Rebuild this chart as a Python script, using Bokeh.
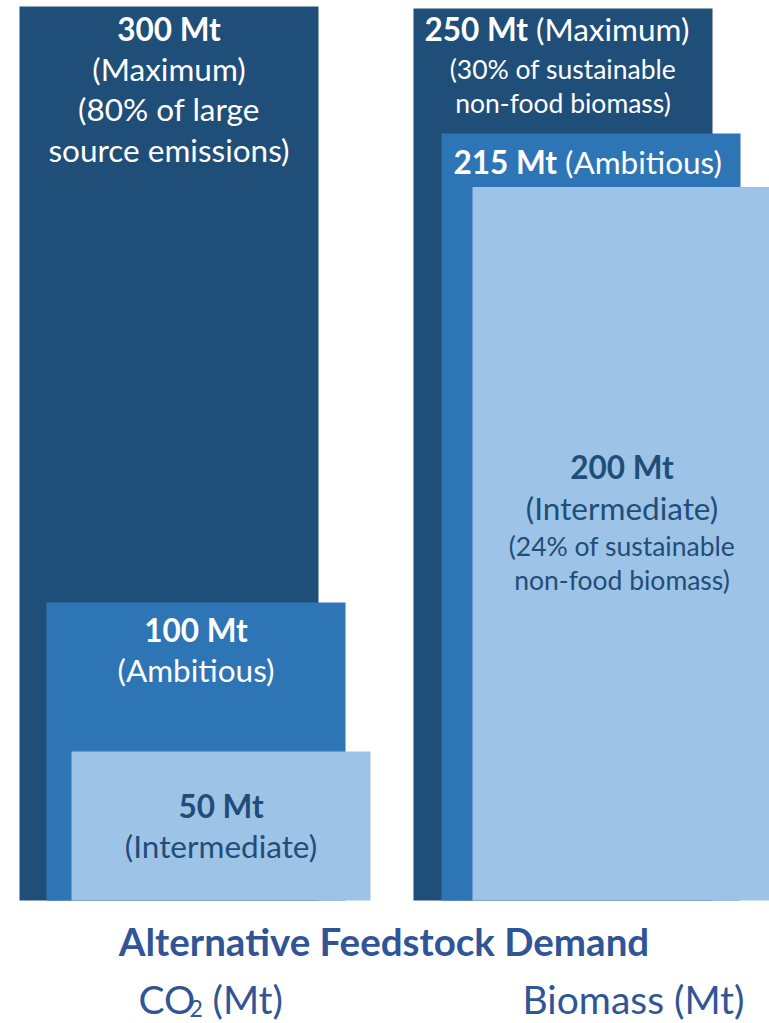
from bokeh.plotting import figure
from bokeh.models import Range1d
from bokeh.core.properties import value
from bokeh.embed import file_html
from bokeh.resources import INLINE

# ---- data -------------------------------------------------------------
scenarios = ["Maximum", "Ambitious", "Intermediate"]
co2_mt = [300, 100, 50]
biomass_mt = [250, 215, 200]
co2_notes = [["(80% of large", "source emissions)"], [], []]
biomass_notes = [["(30% of sustainable", "non-food biomass)"], [],
                 ["(24% of sustainable", "non-food biomass)"]]
title_text = "Alternative Feedstock Demand"
co2_label = ("CO", "2", "(Mt)")
biomass_label = "Biomass (Mt)"

# ---- layout / style ---------------------------------------------------
W, H = 769, 1023
BASE_PX = 900          # pixel row of the zero line
CO2_TOP_PX = 6         # pixel row reached by the largest CO2 bar
BIO_TOP_PX = 8         # pixel row reached by the largest biomass bar
BAR_W = 299
co2_lefts = [19, 46, 71]
bio_lefts = [413, 441, 472]
fills = ["#1F4E79", "#2E75B6", "#9DC3E6"]
ink = ["white", "white", "#1F4E79"]
title_blue = "#2F5597"
FONT = "Lato"
BIG = 31.5
SMALL = 26.5
LIFT = 0.43            # baseline correction, in em


def make_range(vmax, top_px):
    span = vmax * H / (BASE_PX - top_px)
    start = -(H - BASE_PX) * span / H
    return Range1d(start, start + span)


co2_range = make_range(max(co2_mt), CO2_TOP_PX)
bio_range = make_range(max(biomass_mt), BIO_TOP_PX)


def ppu(rng):
    return H / (rng.end - rng.start)


def px_to_y(px, rng):
    return rng.start + (H - px) / H * (rng.end - rng.start)


p = figure(width=W, height=H, x_range=Range1d(0, W), y_range=co2_range,
           output_backend="svg", toolbar_location=None, min_border=0,
           x_axis_location=None, y_axis_location=None,
           outline_line_color=None, background_fill_color="white",
           border_fill_color="white")
p.extra_y_ranges = {"bio": bio_range}
p.grid.visible = False

# ---- bars (largest first so smaller ones sit in front) ---------------
for i in range(3):
    p.quad(left=[co2_lefts[i]], right=[co2_lefts[i] + BAR_W], bottom=[0],
           top=[co2_mt[i]], fill_color=fills[i], line_color=None)
    p.quad(left=[bio_lefts[i]], right=[bio_lefts[i] + BAR_W], bottom=[0],
           top=[biomass_mt[i]], fill_color=fills[i], line_color=None,
           y_range_name="bio")


def put(x, y, txt, size, color, bold=False, align="center", rname="default"):
    """Place a text whose baseline sits at data y (lifted by LIFT em)."""
    rng = co2_range if rname == "default" else bio_range
    y = y + LIFT * size / ppu(rng)
    kw = {} if rname == "default" else {"y_range_name": rname}
    p.text(x=[x], y=[y], text=[txt], text_font=value(FONT),
           text_font_size=value(f"{size}px"), text_color=color,
           text_font_style="bold" if bold else "normal",
           text_align=align, text_baseline="alphabetic", **kw)


# ---- CO2 bar labels: value, scenario, notes on separate lines --------
co2_offsets = [[36, 76, 116, 157], [41, 81], [68, 108]]
k = ppu(co2_range)
for i in range(3):
    cx = co2_lefts[i] + BAR_W / 2
    lines = [(f"{co2_mt[i]} Mt", True), (f"({scenarios[i]})", False)]
    lines += [(n, False) for n in co2_notes[i]]
    for (txt, bold), off in zip(lines, co2_offsets[i]):
        put(cx, co2_mt[i] - off / k, txt, BIG, ink[i], bold)

# ---- biomass bar labels ----------------------------------------------
kb = ppu(bio_range)
# Maximum and Ambitious: value and scenario share one line
for i, (off, split) in enumerate([(34, -31), (42, -30)]):
    cx = bio_lefts[i] + BAR_W / 2
    y = biomass_mt[i] - off / kb
    put(cx + split - 4, y, f"{biomass_mt[i]} Mt", BIG, ink[i], True, "right", "bio")
    put(cx + split + 4, y, f"({scenarios[i]})", BIG, ink[i], False, "left", "bio")
cx = bio_lefts[0] + BAR_W / 2
for n, off in zip(biomass_notes[0], [72, 106]):
    put(cx, biomass_mt[0] - off / kb, n, SMALL, ink[0], False, "center", "bio")

# Intermediate: stacked lines
cx = bio_lefts[2] + BAR_W / 2
put(cx, biomass_mt[2] - 294 / kb, f"{biomass_mt[2]} Mt", BIG, ink[2], True, "center", "bio")
put(cx, biomass_mt[2] - 335 / kb, f"({scenarios[2]})", BIG, ink[2], False, "center", "bio")
for n, off in zip(biomass_notes[2], [370, 404]):
    put(cx, biomass_mt[2] - off / kb, n, SMALL, ink[2], False, "center", "bio")

# ---- captions under the bars -----------------------------------------
put(383.5, px_to_y(957, co2_range), title_text, 38.5, title_blue, True)
put(138, px_to_y(1015, co2_range), co2_label[0], 39, title_blue, False, "left")
put(189, px_to_y(1018, co2_range), co2_label[1], 23, title_blue, False, "left")
put(212, px_to_y(1015, co2_range), co2_label[2], 39, title_blue, False, "left")
put(744, px_to_y(1015, co2_range), biomass_label, 39, title_blue, False, "right")

open("out.html", "w").write(file_html(p, INLINE))
